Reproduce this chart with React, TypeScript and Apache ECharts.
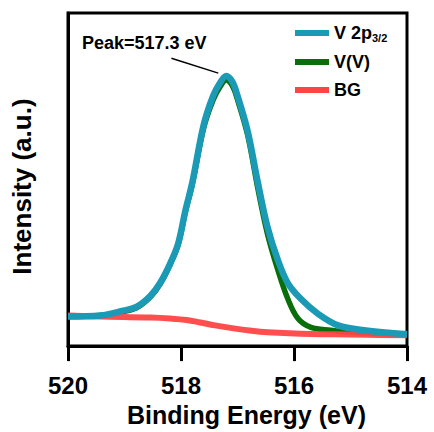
import React, { useEffect, useRef } from "react";
import * as echarts from "echarts";

const energy = [520.0, 519.43, 519.02, 518.78, 518.54, 518.37, 518.19, 518.05, 517.92, 517.8, 517.6, 517.43, 517.3, 517.2, 517.09, 517.0, 516.82, 516.64, 516.47, 516.29, 516.11, 515.88, 515.58, 515.22, 514.76, 514.0];
const totalFit = [30, 31, 36, 40, 51, 64, 84, 104, 138, 166, 224, 254, 268, 274, 268, 254, 218, 166, 121, 88, 64, 48, 33, 21, 16, 12];

const energyV5 = [520.0, 519.43, 519.02, 518.78, 518.54, 518.37, 518.19, 518.05, 517.92, 517.8, 517.6, 517.43, 517.3, 517.2, 517.09, 517.0, 516.82, 516.64, 516.47, 516.29, 516.11, 515.93, 515.7, 515.35, 515.0, 514.5, 514.0];
const v5Fit = [30, 31, 35, 39, 50, 63, 83, 103, 137, 164, 221, 250, 264, 270, 264, 250, 214, 160, 114, 78, 48, 28, 19, 16, 14, 13, 12];

const energyBG = [520.0, 519.43, 518.54, 518.19, 517.9, 517.66, 517.4, 517.07, 516.75, 516.47, 515.88, 515.3, 514.7, 514.0];
const bgFit = [31, 30, 29, 28, 26.5, 24, 21, 18, 15.5, 14, 12.5, 12, 11.5, 11];

const xTicks = { min: 514, max: 520, interval: 2 };
const peakLabel = "Peak=517.3 eV";
const leaderFrom = [518.17, 292];
const leaderTo = [517.34, 277];

const FONT = "'Liberation Sans', Arial, sans-serif";

const pairs = (xs: number[], ys: number[]) => xs.map((x, i) => [x, ys[i]]);

export default function App() {
  const ref = useRef<HTMLDivElement>(null);
  useEffect(() => {
    const chart = echarts.init(ref.current!, null, { renderer: "svg" });
    chart.setOption({
      animation: false,
      backgroundColor: "#fff",
      grid: { left: 68, right: 27, top: 13, bottom: 81, show: true, borderColor: "#000", borderWidth: 3, backgroundColor: "transparent" },
      legend: {
        orient: "vertical",
        left: 290,
        top: 19,
        itemWidth: 34,
        itemHeight: 6,
        itemGap: 10,
        icon: "rect",
        data: ["V 2p3/2", "V(V)", "BG"],
        textStyle: { fontFamily: FONT, fontWeight: "bold", fontSize: 18, color: "#000",
          rich: {
            n: { fontFamily: FONT, fontWeight: "bold", fontSize: 18, color: "#000" },
            s: { fontFamily: FONT, fontWeight: "bold", fontSize: 11, color: "#000", padding: [9, 0, 0, 0] },
          } },
        formatter: (name: string) => (name === "V 2p3/2" ? "{n|V 2p}{s|3/2}" : name),
      },
      xAxis: {
        type: "value",
        inverse: true,
        min: xTicks.min,
        max: xTicks.max,
        interval: xTicks.interval,
        name: "Binding Energy (eV)",
        nameLocation: "middle",
        nameGap: 54,
        nameTextStyle: { fontFamily: FONT, fontWeight: "bold", fontSize: 25, color: "#000", padding: [0, 0, 0, 18] },
        axisLine: { lineStyle: { color: "#000", width: 3 } },
        axisTick: { length: 15, lineStyle: { color: "#000", width: 3 } },
        axisLabel: { fontFamily: FONT, fontWeight: "bold", fontSize: 24, color: "#000", margin: 27 },
        splitLine: { show: false },
      },
      yAxis: {
        type: "value",
        min: 0,
        max: 338,
        name: "Intensity (a.u.)",
        nameLocation: "middle",
        nameGap: 33,
        nameTextStyle: { fontFamily: FONT, fontWeight: "bold", fontSize: 26, color: "#000", padding: [0, 14, 0, 0] },
        axisLine: { show: true, lineStyle: { color: "#000", width: 3 } },
        axisTick: { show: false },
        axisLabel: { show: false },
        splitLine: { show: false },
      },
      graphic: [
        { type: "text", left: 82, top: 34, style: { text: peakLabel, fontFamily: FONT, fontWeight: "bold", fontSize: 18, fill: "#000" } },
      ],
      series: [
        {
          name: "V 2p3/2",
          type: "line",
          data: pairs(energy, totalFit),
          smooth: 0.35,
          showSymbol: false,
          z: 5,
          color: "#1b9ab6",
          lineStyle: { width: 6.5, color: "#1b9ab6" },
          markLine: {
            silent: true,
            symbol: "none",
            label: { show: false },
            lineStyle: { color: "#000", width: 1.5, type: "solid" },
            data: [[{ coord: leaderFrom }, { coord: leaderTo }]],
          },
        },
        {
          name: "V(V)",
          type: "line",
          data: pairs(energyV5, v5Fit),
          smooth: 0.35,
          showSymbol: false,
          z: 3,
          color: "#0a6e0a",
          lineStyle: { width: 5.5, color: "#0a6e0a" },
        },
        {
          name: "BG",
          type: "line",
          data: pairs(energyBG, bgFit),
          smooth: 0.4,
          showSymbol: false,
          z: 4,
          color: "#ff4444",
          lineStyle: { width: 6, color: "#ff4444", opacity: 0.95 },
        },
      ],
    });
    return () => chart.dispose();
  }, []);
  return <div ref={ref} style={{ width: 434, height: 432, position: "absolute", left: 0, top: 0 }} />;
}
